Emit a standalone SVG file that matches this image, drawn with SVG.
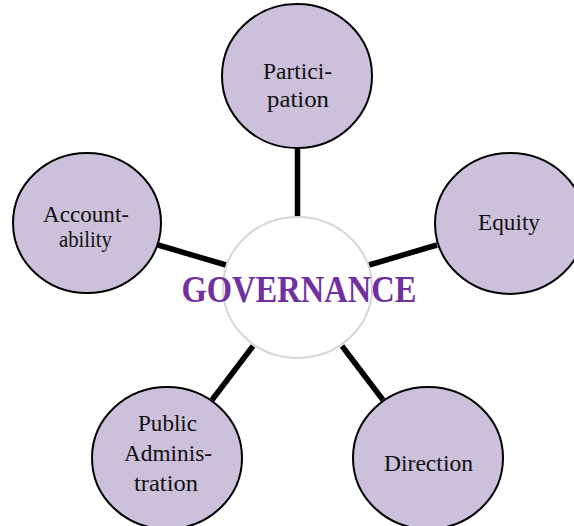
<svg xmlns="http://www.w3.org/2000/svg" width="574" height="526" viewBox="0 0 574 526">
<style>
.node{fill:#ccc0da;stroke:#000;stroke-width:2}
.hub{fill:#fff;stroke:#d6d6d6;stroke-width:2}
.lbl{font-family:"Liberation Serif",serif;font-size:23px;fill:#111;text-anchor:middle}
.title{font-family:"Liberation Serif",serif;font-size:37px;font-weight:bold;fill:#7030a0;text-anchor:middle}
.conn line{stroke:#000;stroke-width:5.5}
</style>
<rect width="574" height="526" fill="#fff"/>
<g id="connectors" class="conn">
<line x1="297.5" y1="147" x2="297.5" y2="218"/>
<line x1="158" y1="245" x2="226" y2="265"/>
<line x1="369" y1="265" x2="437" y2="245"/>
<line x1="253" y1="346" x2="212" y2="400"/>
<line x1="342" y1="346" x2="383" y2="400"/>
</g>
<g id="governance">
<ellipse class="hub" cx="297.5" cy="287.5" rx="74.5" ry="70.5"/>
<text class="title" x="299" y="302" textLength="235" lengthAdjust="spacingAndGlyphs">GOVERNANCE</text>
</g>
<g id="participation">
<ellipse class="node" cx="297" cy="76" rx="75" ry="72"/>
<text class="lbl" x="297.5" y="79" textLength="69" lengthAdjust="spacingAndGlyphs">Partici-</text>
<text class="lbl" x="298" y="107" textLength="62" lengthAdjust="spacingAndGlyphs">pation</text>
</g>
<g id="accountability">
<ellipse class="node" cx="87" cy="223" rx="74" ry="70"/>
<text class="lbl" x="86" y="222" textLength="86" lengthAdjust="spacingAndGlyphs">Account-</text>
<text class="lbl" x="85.5" y="247" textLength="53" lengthAdjust="spacingAndGlyphs">ability</text>
</g>
<g id="equity">
<ellipse class="node" cx="510" cy="223.5" rx="75" ry="70.5"/>
<text class="lbl" x="509" y="230" textLength="62" lengthAdjust="spacingAndGlyphs">Equity</text>
</g>
<g id="public-administration">
<ellipse class="node" cx="167" cy="458" rx="75" ry="71"/>
<text class="lbl" x="167.5" y="431" textLength="59" lengthAdjust="spacingAndGlyphs">Public</text>
<text class="lbl" x="168" y="461" textLength="88" lengthAdjust="spacingAndGlyphs">Adminis-</text>
<text class="lbl" x="166" y="491" textLength="64" lengthAdjust="spacingAndGlyphs">tration</text>
</g>
<g id="direction">
<ellipse class="node" cx="428" cy="458" rx="75" ry="71"/>
<text class="lbl" x="428.5" y="471" textLength="89" lengthAdjust="spacingAndGlyphs">Direction</text>
</g>
</svg>
